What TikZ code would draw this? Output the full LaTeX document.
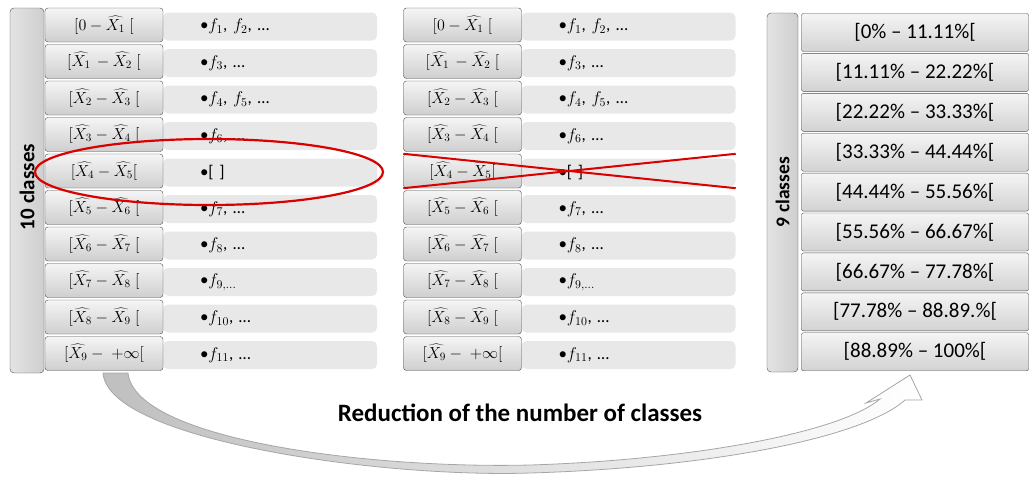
\RequirePackage{fix-cm}
\documentclass[tikz,border=0pt]{standalone}
\usepackage{fontspec}
\setmainfont{Carlito}
\begin{document}
\begin{tikzpicture}[x=1pt,y=-1pt,
  cls/.style={draw=gray!60!black, rounded corners=3pt, top color=gray!8, bottom color=gray!38,
    minimum width=118pt, minimum height=34pt, inner sep=0pt, font=\fontsize{16}{18}\selectfont},
  lbox/.style={fill=gray!18, rounded corners=5pt, text width=140pt, inner xsep=37pt, inner ysep=0pt,
    minimum height=28pt, align=left, font=\fontsize{17}{19}\selectfont},
  bar/.style={draw=gray!60!black, rounded corners=4pt, left color=gray!22, right color=gray!38, inner sep=0pt},
  bartext/.style={rotate=90, font=\bfseries\fontsize{21}{23}\selectfont},
  pbox/.style={draw=gray!60!black, rounded corners=2pt, top color=gray!8, bottom color=gray!35,
    minimum width=227pt, minimum height=38pt, inner sep=0pt, font=\fontsize{21}{23}\selectfont},
  redmark/.style={draw=red!85!black, line width=2.2pt},
]
\useasboundingbox (0,0) rectangle (1030,477);

% curved arrow
\path[left color=gray!50, right color=white, draw=gray!70, line width=0.8pt]
  (103,373) .. controls (108,440) and (380,478) .. (530,473)
  .. controls (700,468) and (860,440) .. (905,400)
  -- (922,400) -- (910,375) -- (866,403) -- (880,399)
  .. controls (840,433) and (690,460) .. (530,465)
  .. controls (370,469) and (135,440) .. (128,373) -- cycle;
\node[font=\bfseries\fontsize{25}{27}\selectfont] (title) at (520,413) {Reduction of the number of classes};

% left panel
\node[bar, minimum width=34pt, minimum height=365pt] (barL) at (27,190.5) {};
\node[bartext] (barLtext) at (27,187) {10 classes};
\foreach \i/\lab/\f in {
  0/{$[0-\widehat{X_1}\;[$}/{\textbullet$f_1$, $f_2$, …},
  1/{$[\widehat{X_1}\,-\widehat{X_2}\;[$}/{\textbullet$f_3$, …},
  2/{$[\widehat{X_2}-\widehat{X_3}\;[$}/{\textbullet$f_4$, $f_5$, …},
  3/{$[\widehat{X_3}-\widehat{X_4}\;[$}/{\textbullet$f_6$, …},
  4/{$[\widehat{X_4}-\widehat{X_5}[$}/{\textbullet[ ]},
  5/{$[\widehat{X_5}-\widehat{X_6}\;[$}/{\textbullet$f_7$, …},
  6/{$[\widehat{X_6}-\widehat{X_7}\;[$}/{\textbullet$f_8$, …},
  7/{$[\widehat{X_7}-\widehat{X_8}\;[$}/{\textbullet$f_{9,\dots}$},
  8/{$[\widehat{X_8}-\widehat{X_9}\;[$}/{\textbullet$f_{10}$, …},
  9/{$[\widehat{X_9}-\;+\infty[$}/{\textbullet$f_{11}$, …}}{
  \pgfmathsetmacro{\yc}{8+36.5*\i+17}
  \node[lbox] (La\i) at (270,\yc+1.5) {\f};
  \node[cls] (Lc\i) at (104,\yc) {\lab};
  \node[lbox] (Ma\i) at (628.5,\yc+1.5) {\f};
  \node[cls] (Mc\i) at (462.5,\yc) {\lab};
}

% red ellipse (left) and red cross (middle)
\draw[redmark] (209,172) ellipse [x radius=174pt, y radius=33pt];
\draw[redmark, line width=2pt] (Mc4.north west) -- (Ma4.south east |- Mc4.south);
\draw[redmark, line width=2pt] (Mc4.south west) -- (Ma4.north east |- Mc4.north);

% right panel
\node[bar, minimum width=31pt, minimum height=359pt] (barR) at (782.5,192.5) {};
\node[bartext, font=\bfseries\fontsize{19.5}{21}\selectfont] (barRtext) at (782.5,192) {9 classes};
\foreach \j/\lab in {
  0/{[0\% – 11.11\%[},
  1/{[11.11\% – 22.22\%[},
  2/{[22.22\% – 33.33\%[},
  3/{[33.33\% – 44.44\%[},
  4/{[44.44\% – 55.56\%[},
  5/{[55.56\% – 66.67\%[},
  6/{[66.67\% – 77.78\%[},
  7/{[77.78\% – 88.89.\%[},
  8/{[88.89\% – 100\%[}}{
  \pgfmathsetmacro{\yc}{13+39.9*\j+19.5}
  \node[pbox] (R\j) at (915,\yc) {\lab};
}
\end{tikzpicture}
\end{document}
